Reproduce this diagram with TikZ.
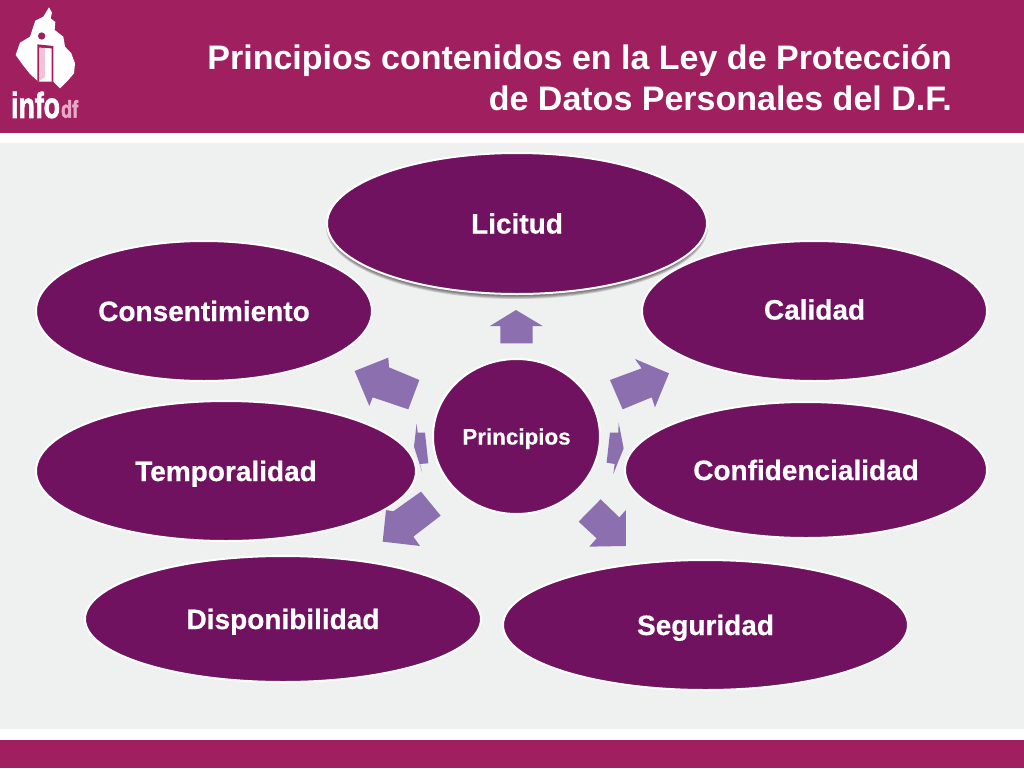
\documentclass[tikz,border=0pt]{standalone}
\usepackage{fontspec}
\setmainfont{Liberation Sans}
\newfontfamily\logofont[UprightFont=* Bold,FakeBold=2.5]{Liberation Sans}
\newfontfamily\ovalfont[UprightFont=* Bold,FakeBold=0.5]{Liberation Sans}
\usetikzlibrary{shapes.geometric}
\definecolor{bar}{HTML}{A01F5E}
\definecolor{panel}{HTML}{EFF0F0}
\definecolor{plum}{HTML}{701260}
\definecolor{lilac}{HTML}{8B6FAF}
\definecolor{dfpink}{HTML}{E9A9C6}
\newcommand{\ovaltext}[2]{\raisebox{#1}[0pt][0pt]{#2}}
\tikzset{
  oval/.style={ellipse,fill=plum,draw=white,line width=2pt,inner sep=0pt,outer sep=0pt,text=white,
    font=\ovalfont\fontsize{28}{30}\selectfont},
  blockarrow/.style={fill=lilac,draw=none},
}
\begin{document}
\begin{tikzpicture}[x=1pt,y=-1pt]
\useasboundingbox (0,0) rectangle (1024,768);
\fill[white] (0,0) rectangle (1024,768);
\fill[bar] (0,0) rectangle (1024,133);
\fill[panel] (0,143) rectangle (1024,729);
\fill[bar] (0,740) rectangle (1024,768);
% logo
\begin{scope}[shift={(0,0)},x=0.3333pt,y=-0.3333pt]
\fill[white] (147,22) -- (156,38) -- (152,55) -- (166,66) -- (164,90) -- (190,110) -- (195,140) -- (214,160) -- (225,190) -- (222,220) -- (205,240) -- (180,265) -- (160,245) -- (115,245) -- (90,222) -- (70,197) -- (47,165) -- (60,128) -- (90,110) -- (106,62) -- (130,50) -- cycle;
\fill[bar] (125,108) circle [radius=11];
\fill[bar] (112,133) -- (160,138) -- (160,250) -- (155,248) -- (155,145) -- (118,143) -- (118,245) -- (112,245) -- cycle;
\fill[dfpink!70!white] (118,143) -- (135,144) -- (135,230) -- (118,243) -- cycle;
\end{scope}
\node[anchor=west,inner sep=0pt,text=white,xscale=.74,font=\logofont\fontsize{36}{36}\selectfont] (info) at (11,105) {info};
\node[anchor=west,inner sep=0pt,text=dfpink,xscale=.75,font=\logofont\fontsize{24}{24}\selectfont] (df) at (61,109) {df};
% title
\node[anchor=east,align=right,inner sep=0pt,text=white,font=\fontsize{34}{41}\selectfont\bfseries] (title) at (952,78) {Principios contenidos en la Ley de Protección\\de Datos Personales del D.F.};
% ovals
\node[oval,minimum width=336pt,minimum height=140pt] (consent) at (204,311) {\ovaltext{-10pt}{Consentimiento}};
\node[oval,minimum width=345pt,minimum height=140pt] (calidad) at (814.5,311) {\ovaltext{-8.5pt}{Calidad}};
\node[oval,minimum width=396pt,minimum height=126pt] (dispon) at (283,619) {\ovaltext{-10pt}{Disponibilidad}};
\node[oval,minimum width=380pt,minimum height=140pt] (tempo) at (226,471) {\ovaltext{-10pt}{Temporalidad}};
\node[oval,minimum width=362pt,minimum height=136pt] (confid) at (806,470) {\ovaltext{-10pt}{Confidencialidad}};
\node[oval,minimum width=405pt,minimum height=130pt] (segur) at (705.5,625) {\ovaltext{-10pt}{Seguridad}};
% shadow of Licitud
\foreach \g in {0,1,...,5}{
  \fill[black,opacity=.14] (517,227) ellipse [x radius={191-\g*.9},y radius={72-\g*.9}];
}
\node[oval,minimum width=380pt,minimum height=141pt] (licitud) at (517,223.5) {\ovaltext{-10pt}{Licitud}};
\node[oval,minimum width=167pt,minimum height=155pt,font=\ovalfont\fontsize{22.4}{24}\selectfont] (princ) at (516.5,436.5) {\ovaltext{-8pt}{Principios}};
% block arrows
\begin{scope}[shift={(340,290)},x=0.3333pt,y=-0.3333pt]
\fill[blockarrow] (528,60) -- (608,108) -- (578,108) -- (578,160) -- (481,160) -- (481,108) -- (450,108) -- cycle;
\fill[blockarrow] (810,270) -- (905,235) -- (885,207) -- (987,250) -- (945,352) -- (935,322) -- (848,358) -- cycle;
\fill[blockarrow] (238,270) -- (147,232) -- (145,203) -- (44,243) -- (88,348) -- (98,322) -- (205,358) -- cycle;
\fill[blockarrow] (810,428) -- (835,428) -- (836,398) -- (851,475) -- (820,552) -- (824,522) -- (800,518) -- cycle;
\fill[blockarrow] (255,428) -- (233,428) -- (230,400) -- (222,470) -- (247,548) -- (240,522) -- (265,520) -- cycle;
\fill[blockarrow] (782,628) -- (838,682) -- (858,660) -- (858,768) -- (748,770) -- (770,745) -- (716,695) -- cycle;
\fill[blockarrow] (243,605) -- (302,677) -- (220,740) -- (240,768) -- (128,755) -- (138,660) -- (160,664) -- cycle;
\end{scope}
\end{tikzpicture}
\end{document}
